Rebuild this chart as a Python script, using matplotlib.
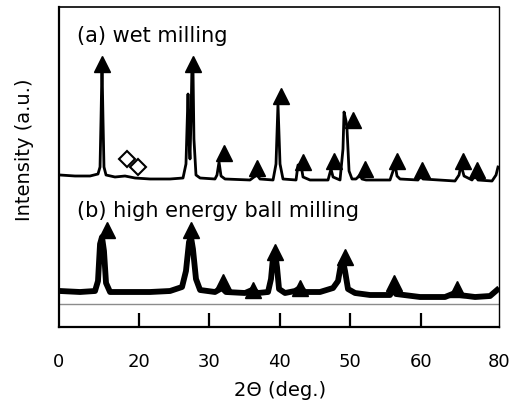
import matplotlib
matplotlib.use("Agg")
import matplotlib.pyplot as plt

# ---- data (2theta in deg, intensity in a.u.) ----
a_two_theta = [8.82, 10.95, 13.08, 14.21, 14.50, 14.64, 14.78, 14.92, 15.06, 15.35, 16.62, 18.04,
               19.46, 21.59, 24.43, 26.27, 26.69, 26.98, 27.12, 27.26, 27.40, 27.54, 27.68, 27.82,
               28.11, 28.69, 30.80, 31.09, 31.38, 31.66, 32.23, 35.77, 36.34, 36.77, 37.19, 39.04,
               39.46, 39.74, 40.03, 40.45, 42.30, 42.58, 43.01, 43.29, 44.28, 46.84, 47.26, 47.55,
               48.54, 48.96, 49.11, 49.39, 49.53, 49.82, 50.24, 50.81, 51.38, 51.66, 52.23, 55.63,
               56.06, 56.34, 56.62, 57.05, 59.60, 60.03, 60.31, 64.85, 65.42, 65.70, 66.13, 67.26,
               67.69, 68.11, 70.10, 70.67, 70.95]
a_intensity = [152, 151, 151, 153, 160, 208, 262, 208, 160, 152, 150, 151,
               149, 148, 148, 149, 163, 233, 188, 168, 208, 262, 262, 188,
               152, 149, 148, 152, 165, 151, 148, 147, 150, 152, 148, 147,
               163, 223, 163, 148, 147, 162, 162, 150, 147, 147, 158, 150,
               147, 178, 215, 206, 198, 156, 148, 148, 152, 148, 147, 147,
               156, 163, 151, 148, 147, 152, 148, 146, 152, 162, 151, 147,
               152, 147, 146, 152, 160]

b_two_theta = [8.82, 11.66, 13.79, 14.21, 14.50, 14.78, 15.06, 15.35, 15.92, 18.75, 21.59, 24.43,
               26.13, 26.69, 27.12, 27.40, 27.68, 28.11, 28.69, 30.80, 31.80, 32.37, 35.07, 36.06,
               36.91, 38.33, 38.75, 39.04, 39.32, 39.60, 39.89, 40.74, 42.16, 42.87, 43.57, 45.70,
               47.55, 48.26, 48.68, 48.96, 49.25, 49.67, 50.67, 52.79, 55.63, 56.06, 56.48, 59.89,
               63.43, 64.85, 65.42, 67.69, 69.82, 70.81]
b_intensity = [36, 35, 36, 46, 83, 90, 76, 44, 35, 35, 35, 36,
               40, 56, 85, 90, 78, 48, 37, 35, 39, 35, 34, 37,
               34, 35, 48, 70, 75, 60, 38, 34, 36, 39, 35, 35,
               39, 46, 63, 66, 56, 38, 34, 32, 32, 39, 33, 30,
               30, 34, 32, 30, 31, 37]

# phase markers (filled triangles) and secondary phase (open diamonds)
a_tri_x = [14.78, 27.68, 32.09, 36.77, 40.17, 43.29, 47.69, 50.38, 52.09, 56.62, 60.17, 65.99, 67.97]
a_tri_y = [263, 263, 174, 159, 231, 165, 166, 207, 158, 166, 157, 166, 157]
a_dia_x = [18.33, 19.89]
a_dia_y = [168, 160]
b_tri_x = [15.49, 27.40, 31.94, 36.20, 39.32, 42.87, 49.25, 56.20, 65.13]
b_tri_y = [97, 97, 45, 37, 75, 39, 70, 44, 38]

b_base = 23
x_range = (8.68, 71.09)
tick_pos = [8.68, 20, 30, 40, 50, 60, 71.09]
tick_lab = ['0', '20', '30', '40', '50', '60', '80']
label_a = "(a) wet milling"
label_b = "(b) high energy ball milling"
xlabel = "2\u0398 (deg.)"
ylabel = "Intensity (a.u.)"

# ---- figure ----
W, H = 515, 406
fig = plt.figure(figsize=(W / 100, H / 100), dpi=100)
ax = fig.add_axes([59 / W, (H - 328) / H, (499 - 59) / W, (328 - 8) / H])

ax.plot(a_two_theta, a_intensity, color='black', lw=2.0, solid_joinstyle='round')
ax.plot(b_two_theta, b_intensity, color='black', lw=4.2, solid_joinstyle='round')
ax.axhline(b_base, color='0.55', lw=1.0)

ax.plot(a_tri_x, a_tri_y, ls='none', marker='^', ms=11.5, color='black')
ax.plot(b_tri_x, b_tri_y, ls='none', marker='^', ms=11.5, color='black')
ax.plot(a_dia_x, a_dia_y, ls='none', marker='D', ms=8.5, mfc='white', mec='black', mew=1.5)

ax.set_xlim(*x_range)
ax.set_ylim(0, 320)
ax.set_yticks([])
ax.set_xticks(tick_pos)
ax.set_xticklabels(tick_lab, fontsize=13)
ax.tick_params(axis='x', direction='in', length=10, width=1.6, pad=18, top=False)
ticks = ax.xaxis.get_major_ticks()
for t in (ticks[0], ticks[-1]):
    t.tick1line.set_visible(False)

ax.spines['bottom'].set_linewidth(1.6)
ax.spines['left'].set_linewidth(1.6)
ax.spines['top'].set_linewidth(1.2)
ax.spines['right'].set_linewidth(1.0)

fig.text(77 / W, 1 - 36 / H, label_a, fontsize=15, ha='left', va='center')
fig.text(77 / W, 1 - 211 / H, label_b, fontsize=15, ha='left', va='center')
fig.text(280 / W, 1 - 391 / H, xlabel, fontsize=14, ha='center', va='center')
fig.text(25 / W, 1 - 150 / H, ylabel, fontsize=14, ha='center', va='center', rotation=90)

fig.savefig("out.png", dpi=100)
